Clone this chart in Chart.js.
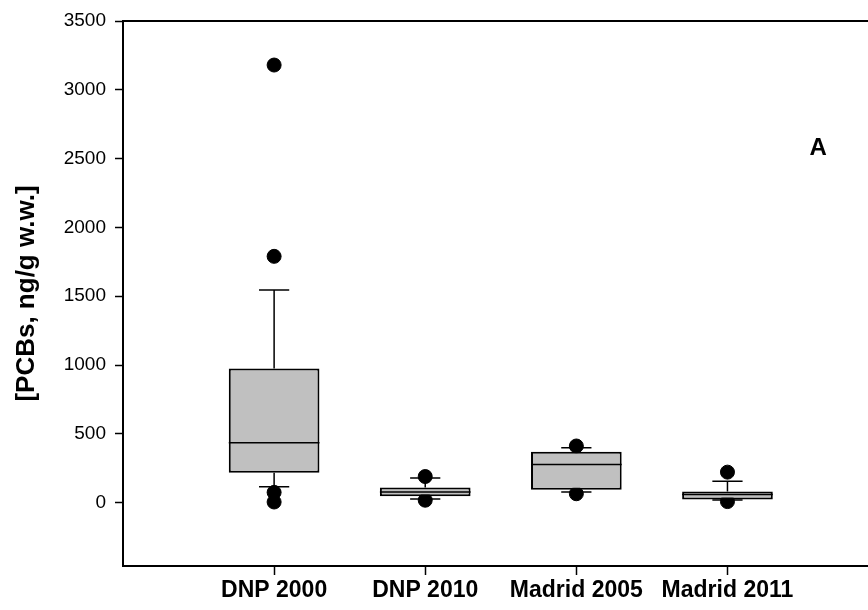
<!DOCTYPE html>
<html>
<head>
<meta charset="utf-8">
<script src="https://cdn.jsdelivr.net/npm/chart.js@4/dist/chart.umd.min.js"></script>
<style>
  body { margin: 0; background: #fff; }
  #wrap { width: 868px; height: 610px; }
</style>
</head>
<body>
<div id="wrap"><canvas id="pcbChart"></canvas></div>
<script>
// sites / years
var categories = ['DNP 2000', 'DNP 2010', 'Madrid 2005', 'Madrid 2011'];

// box summaries (ng/g w.w.)
var whiskerLow  = [116, 27, 78, 20];
var q1          = [217, 46, 94, 24];
var median      = [435, 78, 278, 60];
var q3          = [975, 111, 370, 82];
var whiskerHigh = [1545, 180, 400, 155];

// points outside the whiskers, one list per category
var outliers = [
    [3180, 1790, 75, 5],
    [190, 18],
    [412, 65],
    [222, 8]
];

var yTicks = [0, 500, 1000, 1500, 2000, 2500, 3000, 3500];
var panelLabel = 'A';

var fontName = '"Liberation Sans", Arial, sans-serif';

// x positions are 1..n on a linear axis
var boxData = categories.map((c, i) => ({ x: i + 1, y: [q1[i], q3[i]] }));
var outlierData = [];
outliers.forEach((list, i) => {
    list.forEach(v => outlierData.push({ x: i + 1, y: v }));
});

// whiskers, caps, medians and the top frame line
const boxParts = {
    id: 'boxParts',
    beforeDatasetsDraw(chart) {
        let ctx = chart.ctx;
        let xs = chart.scales.x, ys = chart.scales.y;
        ctx.save();
        ctx.strokeStyle = '#000';
        ctx.lineWidth = 1.5;
        categories.forEach((c, i) => {
            let x = xs.getPixelForValue(i + 1);
            let capL = xs.getPixelForValue(i + 1 - 0.1);
            let capR = xs.getPixelForValue(i + 1 + 0.1);
            let yHi = ys.getPixelForValue(whiskerHigh[i]);
            let yLo = ys.getPixelForValue(whiskerLow[i]);
            ctx.beginPath();
            ctx.moveTo(x, ys.getPixelForValue(q3[i]));
            ctx.lineTo(x, yHi);
            ctx.moveTo(capL, yHi);
            ctx.lineTo(capR, yHi);
            ctx.moveTo(x, ys.getPixelForValue(q1[i]));
            ctx.lineTo(x, yLo);
            ctx.moveTo(capL, yLo);
            ctx.lineTo(capR, yLo);
            ctx.stroke();
        });
        ctx.restore();
    },
    afterDatasetsDraw(chart) {
        let ctx = chart.ctx;
        let xs = chart.scales.x, ys = chart.scales.y;
        let area = chart.chartArea;
        ctx.save();
        ctx.strokeStyle = '#000';
        ctx.lineWidth = 1.5;
        categories.forEach((c, i) => {
            let y = ys.getPixelForValue(median[i]);
            ctx.beginPath();
            ctx.moveTo(xs.getPixelForValue(i + 1 - 0.3), y);
            ctx.lineTo(xs.getPixelForValue(i + 1 + 0.3), y);
            ctx.stroke();
        });
        // top frame
        ctx.lineWidth = 2;
        ctx.beginPath();
        ctx.moveTo(area.left, area.top);
        ctx.lineTo(area.right, area.top);
        ctx.stroke();
        // panel letter
        ctx.fillStyle = '#000';
        ctx.font = 'bold 24px ' + fontName;
        ctx.textAlign = 'center';
        ctx.textBaseline = 'middle';
        ctx.fillText(panelLabel, xs.getPixelForValue(4.6), ys.getPixelForValue(2575));
        ctx.restore();
    }
};

var pcbChart = new Chart(document.getElementById('pcbChart'), {
    type: 'bar',
    data: {
        datasets: [
            {
                type: 'bar',
                data: boxData,
                backgroundColor: '#c0c0c0',
                borderColor: '#000',
                borderWidth: 2,
                borderSkipped: false,
                barPercentage: 0.6,
                categoryPercentage: 1,
                order: 1
            },
            {
                type: 'scatter',
                data: outlierData,
                backgroundColor: '#000',
                borderColor: '#000',
                pointRadius: 7,
                order: 2
            }
        ]
    },
    options: {
        responsive: true,
        maintainAspectRatio: false,
        animation: false,
        layout: { autoPadding: false, padding: { top: 21, right: 0, bottom: 0, left: 0 } },
        plugins: {
            legend: { display: false },
            tooltip: { enabled: false }
        },
        scales: {
            x: {
                type: 'linear',
                offset: false,
                min: 0,
                max: 4.93,
                afterBuildTicks: (scale) => {
                    scale.ticks = categories.map((c, i) => ({ value: i + 1 }));
                },
                afterFit: (scale) => { scale.height = 44; },
                grid: {
                    offset: false,
                    drawOnChartArea: false,
                    drawTicks: true,
                    tickLength: 9,
                    tickWidth: 1.5,
                    tickColor: '#000'
                },
                border: { display: true, color: '#000', width: 2 },
                ticks: {
                    autoSkip: false,
                    maxRotation: 0,
                    padding: 2,
                    color: '#000',
                    font: { family: fontName, size: 23, weight: 'bold' },
                    callback: (v) => categories[v - 1]
                }
            },
            y: {
                min: -460,
                max: 3500,
                afterBuildTicks: (scale) => {
                    scale.ticks = yTicks.map(v => ({ value: v }));
                },
                afterFit: (scale) => { scale.width = 123; },
                grid: {
                    drawOnChartArea: false,
                    drawTicks: true,
                    tickLength: 8,
                    tickWidth: 1.5,
                    tickColor: '#000'
                },
                border: { display: true, color: '#000', width: 2 },
                ticks: {
                    padding: 9,
                    color: '#000',
                    font: { family: fontName, size: 19 },
                    callback: (v) => String(v)
                },
                title: {
                    display: true,
                    text: '[PCBs, ng/g w.w.]',
                    color: '#000',
                    padding: { top: 11, bottom: 0 },
                    font: { family: fontName, size: 26, weight: 'bold' }
                }
            }
        }
    },
    plugins: [boxParts]
});
</script>
</body>
</html>
